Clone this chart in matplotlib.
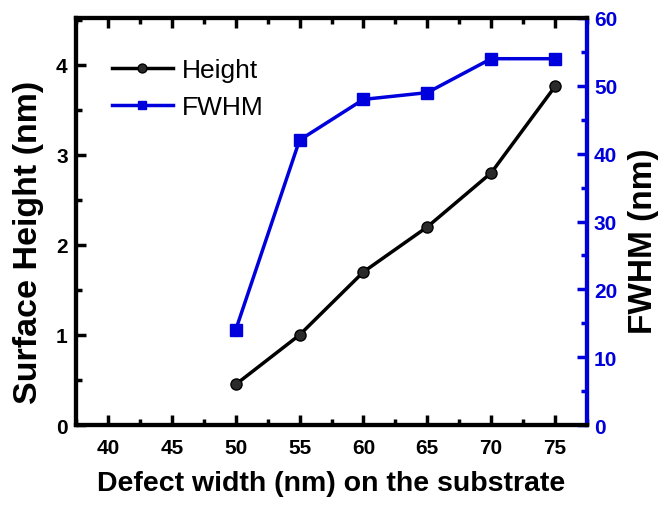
import matplotlib
matplotlib.use("Agg")
import matplotlib.pyplot as plt
from matplotlib.ticker import MultipleLocator

plt.rcParams['font.family'] = ['Liberation Sans', 'DejaVu Sans']

# defect width on the substrate (nm)
width = [50, 55, 60, 65, 70, 75]
height = [0.45, 1.0, 1.7, 2.2, 2.8, 3.76]   # surface height (nm)
fwhm = [14, 42, 48, 49, 54, 54]             # FWHM (nm)

blue = '#0000dd'

fig = plt.figure(figsize=(6.59, 5.10), dpi=100)
ax = fig.add_axes([76/659, 1 - 426/510, (587-76)/659, (426-19)/510])
ax2 = ax.twinx()

lh, = ax.plot(width, height, '-o', color='black', lw=2.5, ms=8,
              markerfacecolor='#2a2a2a', markeredgecolor='black', label='Height')
lf, = ax2.plot(width, fwhm, '-s', color=blue, lw=2.5, ms=8,
               markerfacecolor=blue, markeredgecolor=blue, label='FWHM')

ax.set_xlim(37.5, 77.5)
ax.set_ylim(0, 4.52)
ax2.set_ylim(0, 60)

ax.xaxis.set_major_locator(MultipleLocator(5))
ax.xaxis.set_minor_locator(MultipleLocator(2.5))
ax.yaxis.set_major_locator(MultipleLocator(1))
ax.yaxis.set_minor_locator(MultipleLocator(0.5))
ax2.yaxis.set_major_locator(MultipleLocator(10))
ax2.yaxis.set_minor_locator(MultipleLocator(5))

for a in (ax, ax2):
    for s in a.spines.values():
        s.set_linewidth(3)
ax2.spines['right'].set_color(blue)

ax.tick_params(axis='x', which='both', direction='in', top=True, width=2.5)
ax.tick_params(axis='x', which='major', length=7, pad=9, labelsize=15)
ax.tick_params(axis='x', which='minor', length=4)
ax.tick_params(axis='y', which='both', direction='in', width=2.5)
ax.tick_params(axis='y', which='major', length=7, pad=6, labelsize=15)
ax.tick_params(axis='y', which='minor', length=4)
ax2.tick_params(axis='y', which='both', direction='in', width=2.5, color=blue,
                labelcolor=blue)
ax2.tick_params(axis='y', which='major', length=7, pad=5, labelsize=15)
ax2.tick_params(axis='y', which='minor', length=4)

for lab in ax.get_xticklabels() + ax.get_yticklabels() + ax2.get_yticklabels():
    lab.set_fontweight('bold')

ax.set_xlabel('Defect width (nm) on the substrate', fontsize=20.5,
              fontweight='bold', labelpad=10)
ax.set_ylabel('Surface Height (nm)', fontsize=24.5, fontweight='bold')
ax2.set_ylabel('FWHM (nm)', fontsize=24, fontweight='bold')
ax.yaxis.set_label_coords(-0.062, 0.45)
ax2.yaxis.set_label_coords(1.08, 0.455)

ax.legend(handles=[lh, lf], loc='upper left', bbox_to_anchor=(0.05, 0.928),
          frameon=False, fontsize=19, handlelength=2.3, handletextpad=0.35,
          labelspacing=0.5, borderaxespad=0, markerscale=0.8)

fig.savefig('out.png', dpi=100)
